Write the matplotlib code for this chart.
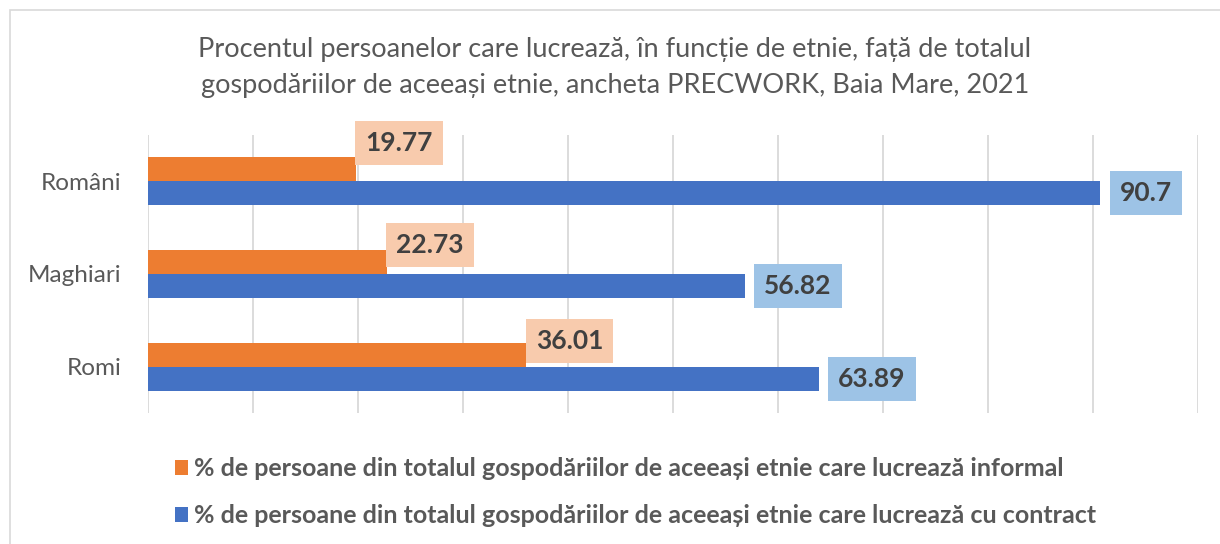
import matplotlib.pyplot as plt
from matplotlib.patches import Rectangle

# date
etnii = ['Români', 'Maghiari', 'Romi']
informal = [19.77, 22.73, 36.01]
contract = [90.7, 56.82, 63.89]
lbl_informal = ['19.77', '22.73', '36.01']
lbl_contract = ['90.7', '56.82', '63.89']
serii = ['% de persoane din totalul gospodăriilor de aceeași etnie care lucrează informal',
         '% de persoane din totalul gospodăriilor de aceeași etnie care lucrează cu contract']

plt.rcParams['font.family'] = ['Lato', 'DejaVu Sans']

W, H = 1220, 544
fig = plt.figure(figsize=(W / 100, H / 100), dpi=100)
ax = fig.add_axes([148 / W, 131 / H, 1050 / W, 278 / H])

h = 0.26
y = list(range(len(etnii)))
b1 = ax.barh([i - h / 2 for i in y], informal, height=h, color='#ED7D31', label=serii[0], zorder=3)
b2 = ax.barh([i + h / 2 for i in y], contract, height=h, color='#4472C4', label=serii[1], zorder=3)

ax.set_xlim(0, 100)
ax.set_ylim(2.5, -0.5)
ax.set_xticks(range(0, 101, 10))
ax.set_xticklabels([])
ax.tick_params(axis='x', length=0)
ax.grid(axis='x', color='#D9D9D9', lw=1.3, zorder=0)
ax.set_yticks(y)
ax.set_yticklabels(etnii, fontsize=17.5, color='#595959')
ax.tick_params(axis='y', length=0, pad=19)
for s in ax.spines.values():
    s.set_visible(False)

# etichete
dy = [-0.41, -0.31, -0.28]
for i in y:
    ax.annotate(lbl_informal[i], xy=(informal[i], i + dy[i]), xytext=(7, 0),
                textcoords='offset points', ha='left', va='center',
                fontsize=19, fontweight='bold', color='#404040', zorder=4,
                bbox=dict(boxstyle='square,pad=0.38', facecolor='#F8CBAD', edgecolor='none'))
    ax.annotate(lbl_contract[i], xy=(contract[i], i + h / 2), xytext=(14, 0),
                textcoords='offset points', ha='left', va='center',
                fontsize=19, fontweight='bold', color='#404040', zorder=4,
                bbox=dict(boxstyle='square,pad=0.38', facecolor='#9DC3E6', edgecolor='none'))

fig.text(0.504, 1 - 50 / H, 'Procentul persoanelor care lucrează, în funcție de etnie, față de totalul',
         ha='center', va='center', fontsize=19.5, color='#595959')
fig.text(0.504, 1 - 85 / H, 'gospodăriilor de aceeași etnie, ancheta PRECWORK, Baia Mare, 2021',
         ha='center', va='center', fontsize=19.5, color='#595959')

leg = fig.legend(handles=[b1, b2], loc='center left', bbox_to_anchor=(152 / W, 1 - 492 / H),
                 frameon=False, handlelength=0.55, handleheight=0.55, handletextpad=0.25,
                 labelspacing=0.95, prop={'size': 18, 'weight': 'bold'})
for t in leg.get_texts():
    t.set_color('#595959')

fig.add_artist(Rectangle((10 / W, -0.1), 1.2, 1.1 - 10.5 / H, transform=fig.transFigure,
                         fill=False, edgecolor='#D9D9D9', lw=1.2))

fig.savefig('out.png', dpi=100)
